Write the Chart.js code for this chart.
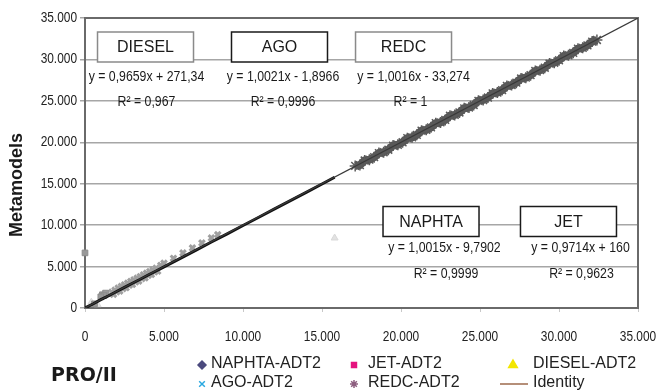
<!DOCTYPE html>
<html lang="en">
<head>
<meta charset="UTF-8">
<title>PRO/II vs Metamodels</title>
<style>
  body { margin: 0; background: #fff; }
  #chart { display: block; }
</style>
</head>
<body>
<canvas id="chart" width="657" height="391"></canvas>
<script src="https://cdn.jsdelivr.net/npm/chart.js"></script>
<script>
// tick values / labels
const tickValues = [0, 5000, 10000, 15000, 20000, 25000, 30000, 35000];
const tickLabels = ['0', '5.000', '10.000', '15.000', '20.000', '25.000', '30.000', '35.000'];

// series (PRO/II value -> metamodel value)
const naphtaPts = [
  {x: 0, y: 0}, {x: 500, y: 480}, {x: 1000, y: 1010}, {x: 1500, y: 1480}, {x: 2000, y: 1990},
  {x: 2500, y: 2480}, {x: 3000, y: 2990}, {x: 3500, y: 3470}, {x: 4000, y: 3980}, {x: 4500, y: 4470},
  {x: 5000, y: 4960}, {x: 6000, y: 5960}, {x: 7000, y: 6950}, {x: 8000, y: 7960}, {x: 9000, y: 8950},
  {x: 10000, y: 9960}, {x: 11000, y: 10950}, {x: 12000, y: 11960}, {x: 13000, y: 12960},
  {x: 14000, y: 13950}, {x: 15000, y: 14960}, {x: 15800, y: 15780}
];
const agoPts = [
  {x: 1700, y: 1900}, {x: 1800, y: 1650}, {x: 1900, y: 2150}, {x: 2000, y: 1950}, {x: 2100, y: 2400},
  {x: 2200, y: 2050}, {x: 2300, y: 2600}, {x: 2400, y: 2350}, {x: 2500, y: 2800}, {x: 2600, y: 2450},
  {x: 2700, y: 3000}, {x: 2800, y: 2750}, {x: 2900, y: 3200}, {x: 3000, y: 2850}, {x: 3100, y: 3400},
  {x: 3200, y: 3150}, {x: 3300, y: 3600}, {x: 3400, y: 3250}, {x: 3500, y: 3800}, {x: 3600, y: 3550},
  {x: 3700, y: 4000}, {x: 3800, y: 3650}, {x: 3900, y: 4200}, {x: 4000, y: 3950}, {x: 4100, y: 4400},
  {x: 4200, y: 4050}, {x: 4300, y: 4600}, {x: 4400, y: 4350}, {x: 4500, y: 4800}, {x: 4600, y: 4450},
  {x: 4800, y: 5150}, {x: 5000, y: 5400}, {x: 5600, y: 6000}, {x: 6200, y: 6650}, {x: 6800, y: 7250},
  {x: 7400, y: 7850}, {x: 8000, y: 8450}, {x: 8400, y: 8850}
];
const jetPts = [
  {x: 0, y: 6650}, {x: 1100, y: 1600}, {x: 1300, y: 1800}, {x: 1200, y: 1500}, {x: 1000, y: 1350},
  {x: 600, y: 500}
];
const dieselPts = [
  {x: 15800, y: 8450}, {x: 400, y: 700}, {x: 800, y: 400}
];
const redcPts = [
  {x: 17100, y: 17150}, {x: 17400, y: 17250}, {x: 17700, y: 17800}, {x: 18000, y: 17900},
  {x: 18300, y: 18200}, {x: 18600, y: 18700}, {x: 18900, y: 18800}, {x: 19200, y: 19100},
  {x: 19500, y: 19600}, {x: 19800, y: 19700}, {x: 20100, y: 20000}, {x: 20400, y: 20500},
  {x: 20700, y: 20600}, {x: 21000, y: 20900}, {x: 21300, y: 21400}, {x: 21600, y: 21500},
  {x: 21900, y: 21800}, {x: 22200, y: 22300}, {x: 22500, y: 22400}, {x: 22800, y: 22700},
  {x: 23100, y: 23200}, {x: 23400, y: 23300}, {x: 23700, y: 23600}, {x: 24000, y: 24100},
  {x: 24300, y: 24200}, {x: 24600, y: 24500}, {x: 24900, y: 25000}, {x: 25200, y: 25100},
  {x: 25500, y: 25400}, {x: 25800, y: 25900}, {x: 26100, y: 26000}, {x: 26400, y: 26300},
  {x: 26700, y: 26800}, {x: 27000, y: 26900}, {x: 27300, y: 27200}, {x: 27600, y: 27700},
  {x: 27900, y: 27800}, {x: 28200, y: 28100}, {x: 28500, y: 28600}, {x: 28800, y: 28700},
  {x: 29100, y: 29000}, {x: 29400, y: 29500}, {x: 29700, y: 29600}, {x: 30000, y: 29900},
  {x: 30300, y: 30400}, {x: 30600, y: 30500}, {x: 30900, y: 30800}, {x: 31200, y: 31300},
  {x: 31500, y: 31400}, {x: 31800, y: 31700}, {x: 32100, y: 32150}, {x: 32400, y: 32350}
];
const identityPts = [{x: 0, y: 0}, {x: 35000, y: 35000}];

// regression labels
const fitNames = ['DIESEL', 'AGO', 'REDC', 'NAPHTA', 'JET'];
const fitEquations = ['y = 0,9659x + 271,34', 'y = 1,0021x - 1,8966', 'y = 1,0016x - 33,274',
                      'y = 1,0015x - 9,7902', 'y = 0,9714x + 160'];
const fitR2 = ['R² = 0,967', 'R² = 0,9996', 'R² = 1', 'R² = 0,9999', 'R² = 0,9623'];

// where the labels sit (data coords of box centre / text centres)
const fitLayout = [
  {bx: 3830, by: 31500, ex: 3890, ey: 27950, rx: 3890, ry: 24850, border: '#8a8a8a'},
  {bx: 12310, by: 31500, ex: 12530, ey: 27950, rx: 12530, ry: 24850, border: '#1a1a1a'},
  {bx: 20160, by: 31500, ex: 20790, ey: 27950, rx: 20600, ry: 24850, border: '#8a8a8a'},
  {bx: 21900, by: 10440, ex: 22750, ey: 7240, rx: 22850, ry: 4100, border: '#1a1a1a'},
  {bx: 30600, by: 10440, ex: 31360, ey: 7240, rx: 31420, ry: 4100, border: '#1a1a1a'}
];

const legendItems = [
  {text: 'NAPHTA-ADT2', style: 'rectRot', color: '#4b4a7e', mx: 202, tx: 211, row: 0, r: 4},
  {text: 'AGO-ADT2', style: 'crossRot', color: '#2aa8e0', mx: 202, tx: 211, row: 1, r: 4},
  {text: 'JET-ADT2', style: 'rect', color: '#e5137f', mx: 354, tx: 368, row: 0, r: 3.5},
  {text: 'REDC-ADT2', style: 'star', color: '#8d5f80', mx: 354, tx: 368, row: 1, r: 4},
  {text: 'DIESEL-ADT2', style: 'triangle', color: '#f3e600', mx: 513, tx: 533, row: 0, r: 5},
  {text: 'Identity', style: 'line', color: '#9c6a4c', mx: 514, tx: 533, row: 1, r: 14}
];

const regular = "'Liberation Sans', Arial, sans-serif";

// Arial Narrow is not installed: squeeze Liberation Sans instead
function narrowText(ctx, text, x, y, align) {
  ctx.save();
  ctx.translate(x, y);
  ctx.scale(0.82, 1);
  ctx.textAlign = align;
  ctx.fillText(text, 0, 0);
  ctx.restore();
}

const labelsPlugin = {
  id: 'labels',
  beforeDatasetsDraw(chart) {
    // frame round the plot area
    const {ctx, chartArea: a} = chart;
    ctx.save();
    ctx.strokeStyle = '#6a6a6a';
    ctx.lineWidth = 2;
    ctx.strokeRect(a.left, a.top, a.right - a.left, a.bottom - a.top);
    ctx.restore();
  },
  afterDraw(chart) {
    const {ctx} = chart;
    const xs = chart.scales.x, ys = chart.scales.y;
    ctx.save();
    ctx.textBaseline = 'middle';

    // tick labels
    ctx.fillStyle = '#222';
    ctx.font = '14.5px ' + regular;
    tickValues.forEach((v, i) => {
      narrowText(ctx, tickLabels[i], xs.getPixelForValue(v), 337, 'center');
      narrowText(ctx, tickLabels[i], 77, ys.getPixelForValue(v), 'right');
    });

    fitNames.forEach((name, i) => {
      const L = fitLayout[i];
      const cx = xs.getPixelForValue(L.bx), cy = ys.getPixelForValue(L.by);
      ctx.fillStyle = '#fff';
      ctx.fillRect(cx - 48, cy - 15, 96, 30);
      ctx.strokeStyle = L.border;
      ctx.lineWidth = 1.5;
      ctx.strokeRect(cx - 48, cy - 15, 96, 30);
      ctx.fillStyle = '#1a1a1a';
      ctx.font = '16px ' + regular;
      ctx.textAlign = 'center';
      ctx.fillText(name, cx, cy + 1);
      ctx.font = '15px ' + regular;
      narrowText(ctx, fitEquations[i], xs.getPixelForValue(L.ex), ys.getPixelForValue(L.ey), 'center');
      narrowText(ctx, fitR2[i], xs.getPixelForValue(L.rx), ys.getPixelForValue(L.ry), 'center');
    });

    // axis titles
    ctx.textAlign = 'center';
    ctx.font = 'bold 18px ' + regular;
    ctx.fillStyle = '#1a1a1a';
    ctx.save();
    ctx.translate(17, 185);
    ctx.rotate(-Math.PI / 2);
    ctx.fillText('Metamodels', 0, 0);
    ctx.restore();
    ctx.font = "bold 19px 'DejaVu Sans', Verdana, sans-serif";
    ctx.fillText('PRO/II', 84, 376);

    // legend
    const rowY = [365, 384];
    ctx.textAlign = 'left';
    ctx.textBaseline = 'alphabetic';
    ctx.font = '16px ' + regular;
    legendItems.forEach(it => {
      const y = rowY[it.row];
      if (it.style === 'line') {
        ctx.strokeStyle = it.color;
        ctx.lineWidth = 1.5;
        ctx.beginPath();
        ctx.moveTo(it.mx - it.r, y);
        ctx.lineTo(it.mx + it.r, y);
        ctx.stroke();
      } else {
        ctx.fillStyle = it.color;
        ctx.strokeStyle = it.color;
        ctx.lineWidth = 1.5;
        Chart.helpers.drawPoint(ctx, {pointStyle: it.style, radius: it.r, rotation: 0, borderWidth: 1.5}, it.mx, y);
      }
      ctx.fillStyle = '#222';
      ctx.fillText(it.text, it.tx, y + 3);
    });
    ctx.restore();
  }
};

new Chart(document.getElementById('chart'), {
  type: 'scatter',
  data: {
    datasets: [
      {label: 'Identity', data: identityPts, showLine: true, borderColor: '#3a3a3a', borderWidth: 1.2,
       pointRadius: 0, order: 0},
      {label: 'NAPHTA-ADT2', data: naphtaPts, showLine: true, borderColor: '#111', borderWidth: 3,
       pointRadius: 0, order: 1},
      {label: 'AGO-ADT2', data: agoPts, pointStyle: 'crossRot', pointRadius: 4, borderWidth: 3,
       borderColor: '#a0a0a0', backgroundColor: '#a0a0a0', order: 3},
      {label: 'JET-ADT2', data: jetPts, pointStyle: 'rect', pointRadius: 4, borderWidth: 1,
       borderColor: '#8c8c8c', backgroundColor: '#999', order: 2, clip: 8},
      {label: 'DIESEL-ADT2', data: dieselPts, pointStyle: 'triangle', pointRadius: 4, borderWidth: 1,
       borderColor: '#d8d8d8', backgroundColor: '#e2e2e2', order: 4},
      {label: 'REDC-ADT2', data: redcPts, showLine: true, borderColor: '#555', borderWidth: 8,
       pointStyle: 'star', pointRadius: 5.5, pointBorderWidth: 1.5,
       pointBorderColor: '#5a5a5a', pointBackgroundColor: '#5a5a5a', order: 2}
    ]
  },
  options: {
    responsive: false,
    animation: false,
    layout: {padding: {top: 18, right: 19, left: 0, bottom: 0}},
    plugins: {legend: {display: false}, tooltip: {enabled: false}},
    scales: {
      x: {
        type: 'linear', min: 0, max: 35000,
        afterFit: s => { s.height = 83; },
        afterBuildTicks: s => { s.ticks = tickValues.map(v => ({value: v})); },
        ticks: {display: false},
        grid: {drawOnChartArea: false, drawTicks: true, tickLength: 4, color: '#c8c8c8'},
        border: {display: false}
      },
      y: {
        type: 'linear', min: 0, max: 35000,
        afterFit: s => { s.width = 85; },
        afterBuildTicks: s => { s.ticks = tickValues.map(v => ({value: v})); },
        ticks: {display: false},
        grid: {color: '#a6a6a6', lineWidth: 1.5, tickLength: 5},
        border: {display: false}
      }
    }
  },
  plugins: [labelsPlugin]
});
</script>
</body>
</html>
